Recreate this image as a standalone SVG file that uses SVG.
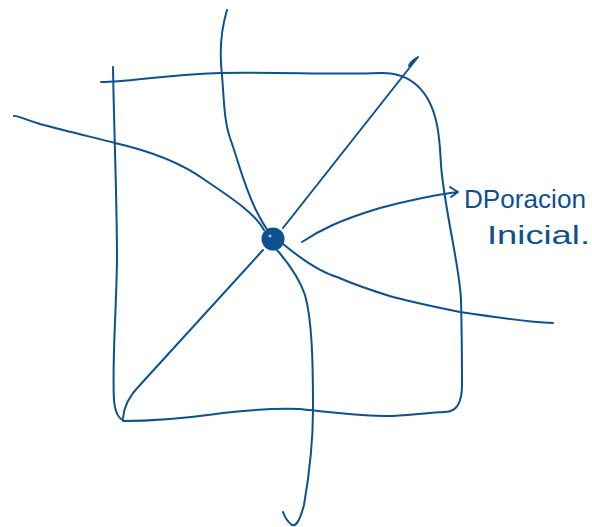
<svg xmlns="http://www.w3.org/2000/svg" width="592" height="527" viewBox="0 0 592 527">
<style>
.ln{fill:none;stroke:#0d5191;stroke-width:2;stroke-linecap:round;stroke-linejoin:round}
.lbl{fill:#0d5191;font-family:"Liberation Sans",Arial,sans-serif}
</style>
<rect width="592" height="527" fill="#ffffff"/>
<g id="box">
<path class="ln" d="M113,67 C114,130 117,200 117,260 C116,320 112,360 114,400 C115,412 118,418 123,420"/>
<path class="ln" d="M101,82 C130,82 160,75 220,73 C280,72 340,75 380,73 C410,72 430,90 437,125 C441,145 440,160 442,175 C447,220 460,270 461,300 C462,340 462,360 462,385 C462,405 455,412 445,412 C420,413 400,417 383,416 C350,415 330,412 300,409 C280,408 250,410 223,413 C200,416 170,421 123,421"/>
</g>
<g id="connectors">
<path class="ln" d="M227,10 C221,30 219,50 222,75 C224,100 224,120 230,138 C238,160 245,190 258,214 C262,222 266,228 268,231"/>
<path class="ln" d="M14,116 C16,115 18,117 40,124 C70,132 100,139 115,143 C150,151 180,162 205,180 C230,197 255,213 264,230"/>
<path class="ln" d="M123,418 C124,405 130,395 140,385 L263,250"/>
<path class="ln" d="M283,228 L418,57 C414,60 410,62 409,66"/>
<path class="ln" d="M283,244 C300,258 320,272 337,277 C360,287 380,293 393,297 C420,304 440,308 460,312 C500,318 530,322 553,323"/>
<path class="ln" d="M277,250 C290,265 300,280 305,295 C312,320 313,360 313,410 C313,440 310,470 304,505 C300,520 296,527 292,525 C288,522 285,518 283,512"/>
<path class="ln" d="M302,242 C320,230 340,220 380,208 C410,200 435,195 457,192 M450,187 L458,192 L451,197"/>
</g>
<g id="node-origin">
<circle cx="273" cy="239" r="11.5" fill="#0d5191"/>
<circle cx="270" cy="236" r="1.5" fill="#ffffff" opacity="0.7"/>
</g>
<g id="label">
<text class="lbl" x="464" y="208" font-size="25" textLength="122" lengthAdjust="spacingAndGlyphs">DPoracion</text>
<text class="lbl" x="487" y="244" font-size="26" textLength="103" lengthAdjust="spacingAndGlyphs">Inicial.</text>
</g>
</svg>
